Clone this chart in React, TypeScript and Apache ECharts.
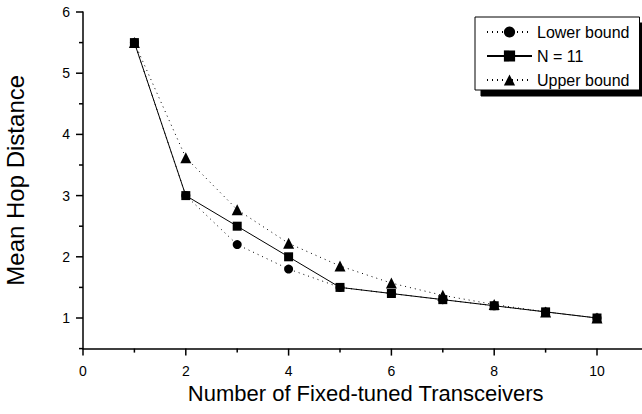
import React, { useEffect, useRef } from "react";
import * as echarts from "echarts";

const xValues = [1, 2, 3, 4, 5, 6, 7, 8, 9, 10];
const lowerBound = [5.5, 3.0, 2.2, 1.8, 1.5, 1.4, 1.3, 1.2, 1.1, 1.0];
const nEleven = [5.5, 3.0, 2.5, 2.0, 1.5, 1.4, 1.3, 1.2, 1.1, 1.0];
const upperBound = [5.5, 3.62, 2.77, 2.22, 1.85, 1.57, 1.37, 1.22, 1.1, 1.0];

const xMajorTicks = [0, 2, 4, 6, 8, 10];
const xMinorTicks = [1, 3, 5, 7, 9];
const yMajorTicks = [1, 2, 3, 4, 5, 6];
const yMinorTicks = [0.5, 1.5, 2.5, 3.5, 4.5, 5.5];

const FONT = "Liberation Sans, Arial, Helvetica, sans-serif";

export default function App() {
  const ref = useRef<HTMLDivElement>(null);
  useEffect(() => {
    if (!ref.current) return;
    const chart = echarts.init(ref.current, undefined, { renderer: "svg" });
    const pair = (ys: number[]) => xValues.map((x, i) => [x, ys[i]]);
    const tickData = [
      ...xMajorTicks.map((v) => [0, v]),
      ...xMinorTicks.map((v) => [1, v]),
      ...yMajorTicks.map((v) => [2, v]),
      ...yMinorTicks.map((v) => [3, v]),
    ];
    chart.setOption({
      animation: false,
      backgroundColor: "#fff",
      textStyle: { fontFamily: FONT },
      grid: {
        left: 83,
        top: 12,
        width: 565.4,
        height: 336.6,
        outerBoundsMode: "none",
      },
      legend: {
        left: 475,
        top: 17,
        orient: "vertical",
        itemWidth: 45,
        itemHeight: 14,
        itemGap: 8,
        padding: [7, 10, 2, 11],
        backgroundColor: "#fff",
        borderColor: "#000",
        borderWidth: 1,
        borderRadius: 0,
        shadowColor: "#000",
        shadowBlur: 0,
        shadowOffsetX: 6,
        shadowOffsetY: 6,
        textStyle: { fontSize: 16, color: "#000", fontFamily: FONT, width: 112, overflow: "none" },
        data: ["Lower bound", "N = 11", "Upper bound"],
      },
      xAxis: {
        type: "value",
        min: 0,
        max: 11,
        interval: 2,
        position: "bottom",
        name: "Number of Fixed-tuned Transceivers",
        nameLocation: "middle",
        nameGap: 33,
        nameTextStyle: { fontSize: 22, color: "#000", fontFamily: FONT },
        axisLine: { show: true, onZero: false, lineStyle: { color: "#000", width: 1.5 } },
        axisTick: { show: false },
        axisLabel: { show: true, showMaxLabel: false, margin: 15, fontSize: 14, color: "#000", fontFamily: FONT },
        splitLine: { show: false },
      },
      yAxis: {
        type: "value",
        min: 0.5,
        max: 6,
        splitNumber: 5,
        position: "left",
        name: "Mean Hop Distance",
        nameLocation: "middle",
        nameGap: 56,
        nameTextStyle: { fontSize: 24, color: "#000", fontFamily: FONT },
        axisLine: { show: true, onZero: false, lineStyle: { color: "#000", width: 1.5 } },
        axisTick: { show: false },
        axisLabel: { show: true, showMinLabel: false, margin: 13, fontSize: 14, color: "#000", fontFamily: FONT },
        splitLine: { show: false },
      },
      series: [
        {
          name: "Lower bound",
          type: "line",
          data: pair(lowerBound),
          symbol: "circle",
          symbolSize: 9,
          itemStyle: { color: "#000" },
          lineStyle: { color: "#000", width: 1, type: [1, 4] },
        },
        {
          name: "N = 11",
          type: "line",
          data: pair(nEleven),
          symbol: "rect",
          symbolSize: 9,
          itemStyle: { color: "#000" },
          lineStyle: { color: "#000", width: 1, type: "solid" },
        },
        {
          name: "Upper bound",
          type: "line",
          data: pair(upperBound),
          symbol: "triangle",
          symbolSize: 11,
          itemStyle: { color: "#000" },
          lineStyle: { color: "#000", width: 1, type: [1, 4] },
        },
        {
          name: "axis ticks",
          type: "custom",
          silent: true,
          clip: false,
          z: 1,
          data: tickData,
          renderItem: (params: any, api: any) => {
            const kind = api.value(0);
            const v = api.value(1);
            let x1: number, y1: number, x2: number, y2: number;
            if (kind < 2) {
              const p = api.coord([v, 0.5]);
              const len = kind === 0 ? 7 : 4;
              x1 = p[0];
              y1 = p[1];
              x2 = p[0];
              y2 = p[1] + len;
            } else {
              const p = api.coord([0, v]);
              const len = kind === 2 ? 7 : 4;
              x1 = p[0] - len;
              y1 = p[1];
              x2 = p[0];
              y2 = p[1];
            }
            return {
              type: "line",
              shape: { x1, y1, x2, y2 },
              style: { stroke: "#000", lineWidth: 1.5 },
            };
          },
        },
      ],
    });
    return () => chart.dispose();
  }, []);
  return (
    <div style={{ position: "absolute", left: 0, top: 0, width: 642, height: 414, overflow: "hidden", background: "#fff" }}>
      <div ref={ref} style={{ width: 662, height: 414 }} />
    </div>
  );
}
